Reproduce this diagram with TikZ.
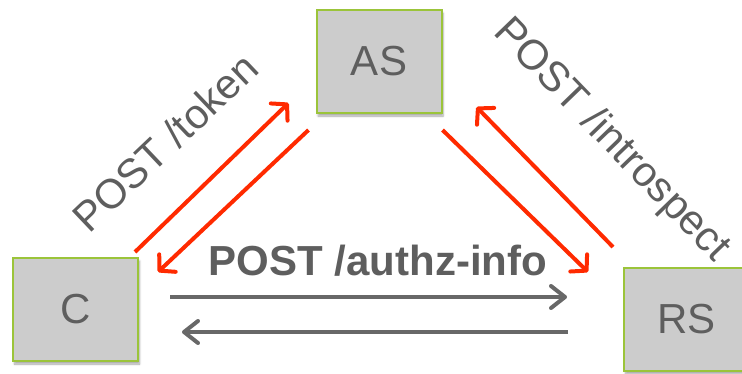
\documentclass[tikz,border=0pt]{standalone}
\usepackage{fontspec}
\setmainfont{Liberation Sans}
\usetikzlibrary{arrows.meta,shadows.blur}
\definecolor{boxfill}{HTML}{CCCCCC}
\definecolor{boxline}{HTML}{9BC43A}
\definecolor{txtgray}{HTML}{5E5E5E}
\definecolor{flowred}{HTML}{FF2A00}
\definecolor{flowgray}{HTML}{686868}
\tikzset{
  party/.style={draw=boxline, fill=boxfill, line width=2pt,
    minimum width=125pt, minimum height=103pt, inner sep=0pt,
    text=txtgray, font=\fontsize{42}{50}\selectfont,
    blur shadow={shadow xshift=1.5pt, shadow yshift=-3pt, shadow opacity=35, shadow blur steps=6}},
  redflow/.style={draw=flowred, line width=4pt,
    -{Straight Barb[length=11pt,width=24pt,line cap=round,line join=round]}},
  grayflow/.style={draw=flowgray, line width=4pt,
    -{Straight Barb[length=14pt,width=22pt,line cap=round,line join=round]}},
  lbl/.style={text=txtgray, inner sep=0pt, font=\fontsize{42}{50}\selectfont},
}
\begin{document}
\begin{tikzpicture}[x=1pt,y=-1pt]
\useasboundingbox (0,0) rectangle (742,373);
\clip (0,0) rectangle (742,373);

% the three parties
\node[party] (AS) at (379,61.5) {AS};
\node[party] (C)  at (75.5,309.5) {C};
\node[party] (RS) at (686.5,319.5) {RS};

% C <-> AS
\draw[redflow] ([xshift=-4pt,yshift=5pt]C.north east) -- ([xshift=-27pt,yshift=11pt]AS.south west);
\draw[redflow] ([xshift=-7pt,yshift=-16pt]AS.south west) -- ([xshift=19pt,yshift=-15pt]C.north east);

% AS <-> RS
\draw[redflow] ([yshift=-16pt]AS.south east) -- ([xshift=-35pt,yshift=-5pt]RS.north west);
\draw[redflow] ([xshift=-10pt,yshift=20pt]RS.north west) -- ([xshift=34pt,yshift=7pt]AS.south east);

% C <-> RS
\draw[grayflow] ([xshift=31pt,yshift=12.5pt]C.east) -- ([xshift=-56pt,yshift=22.5pt]RS.west);
\draw[grayflow] ([xshift=-55pt,yshift=-12.5pt]RS.west) -- ([xshift=43pt,yshift=-22.5pt]C.east);

% labels
\node[lbl, rotate=43.5, anchor=base west, font=\fontsize{41.5}{50}\selectfont] (tok) at (89,235) {POST /token};
\node[lbl, rotate=-46, anchor=base west] (intro) at (492,33) {POST /introspect};
\node[lbl, anchor=base, font=\fontsize{42}{50}\selectfont\bfseries] (authz) at (378,275) {POST /authz-info};
\end{tikzpicture}
\end{document}
